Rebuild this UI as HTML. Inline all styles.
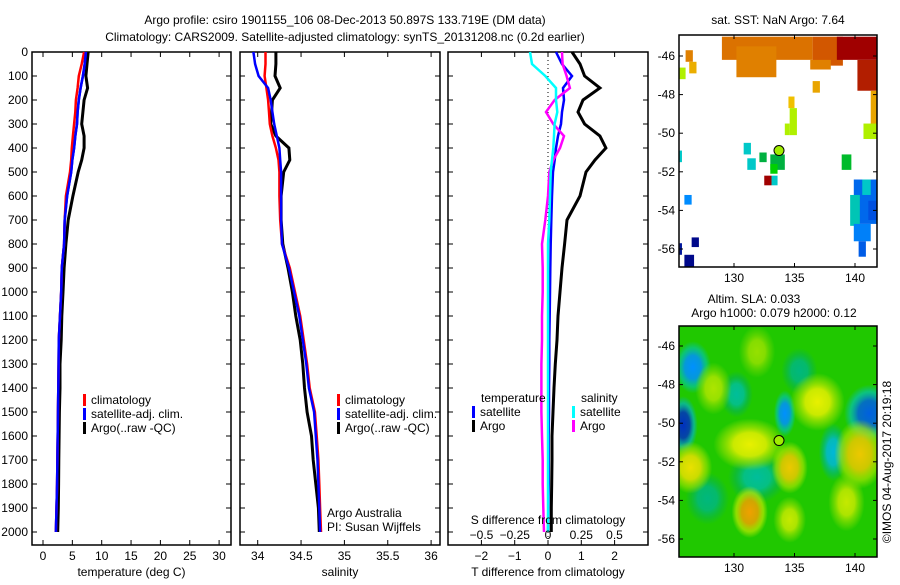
<!DOCTYPE html>
<html><head><meta charset="utf-8"><style>
body{margin:0;background:#fff;width:900px;height:580px;overflow:hidden}
svg text{font-family:"Liberation Sans",sans-serif;font-size:12px;fill:#000}
</style></head><body>
<svg id="c" width="900" height="580" viewBox="0 0 900 580"></svg>
<script>
const depths=[0,50,100,150,200,250,300,350,400,450,500,600,700,800,900,1000,1100,1200,1300,1400,1500,1600,1700,1800,1900,2000];
const tempArgo=[7.7,7.5,7.3,7.6,7.0,6.8,6.6,7.0,7.0,6.6,6.0,5.1,4.3,3.9,3.6,3.4,3.2,3.1,2.9,2.9,2.8,2.75,2.7,2.65,2.6,2.5];
const tempClim=[7.0,6.6,6.1,5.9,5.6,5.5,5.3,5.1,4.9,4.8,4.6,3.9,3.7,3.6,3.2,3.1,2.9,2.7,2.65,2.6,2.55,2.5,2.45,2.4,2.3,2.2];
const tempSat=[7.3,7.1,6.8,6.4,6.1,5.9,5.8,5.5,5.3,5.0,4.8,4.1,3.7,3.6,3.2,3.1,2.9,2.7,2.65,2.6,2.55,2.5,2.45,2.4,2.3,2.2];
const salArgo=[34.21,34.21,34.20,34.26,34.17,34.16,34.15,34.21,34.36,34.37,34.30,34.27,34.27,34.29,34.35,34.40,34.44,34.49,34.52,34.54,34.57,34.62,34.64,34.67,34.70,34.71];
const salClim=[34.09,34.09,34.08,34.10,34.12,34.13,34.14,34.17,34.21,34.24,34.25,34.25,34.26,34.28,34.37,34.43,34.49,34.53,34.57,34.60,34.66,34.68,34.70,34.71,34.72,34.73];
const salSat=[33.95,33.97,34.01,34.12,34.15,34.17,34.19,34.22,34.25,34.26,34.27,34.27,34.27,34.28,34.36,34.42,34.48,34.52,34.56,34.59,34.65,34.67,34.69,34.70,34.71,34.72];
const dTArgo=[0.72,0.96,1.1,1.56,1.05,0.9,1.1,1.56,1.74,1.41,1.14,0.96,0.57,0.5,0.42,0.36,0.3,0.27,0.22,0.18,0.15,0.12,0.12,0.11,0.1,0.1];
const dTSat=[0.24,0.42,0.72,0.45,0.48,0.42,0.39,0.3,0.24,0.2,0.15,0.12,0.1,0.08,0.07,0.06,0.05,0.04,0.04,0.03,0.03,0.02,0.02,0.02,0.01,0.0];
const dSArgo=[0.105,0.11,0.14,0.165,0.05,-0.015,0.04,0.12,0.09,0.04,0.01,0.0,-0.02,-0.045,-0.04,-0.04,-0.045,-0.045,-0.05,-0.05,-0.05,-0.045,-0.04,-0.04,-0.035,-0.03];
const dSSat=[-0.135,-0.12,-0.02,0.06,0.06,0.07,0.05,0.045,0.04,0.03,0.02,0.015,0.01,0,0,0,0,0,0,0,0,0,0,0,0,0];
const depthTicks=[0,100,200,300,400,500,600,700,800,900,1000,1100,1200,1300,1400,1500,1600,1700,1800,1900,2000];
const tempTicks=[0,5,10,15,20,25,30];
const salTicks=[34,34.5,35,35.5,36];
const dTTicks=[-2,-1,0,1,2];
const dSTicks=[-0.5,-0.25,0,0.25,0.5];
const dSTickLabels=['\u22120.5','\u22120.25','0','0.25','0.5'];
const lonTicks=[130,135,140];
const latTicks=[-46,-48,-50,-52,-54,-56];
const argoPos=[133.72,-50.897];
// SST patches: lon0, lon1, lat0, lat1, sst
const sstPatches=[[129,136.5,-45,-46.2,9.2],[136.5,139,-45,-46.5,9.6],[138.5,141.8,-45,-46.2,10.5],[140.2,141.8,-46.2,-47.8,10.2],[141.3,141.8,-47.8,-50,8.6],[140.7,141.8,-49.5,-50.3,7.7],[130.2,133.5,-45.5,-47.1,9.0],[136.3,138,-46.2,-46.7,9.0],[136.5,137.1,-47.3,-47.9,8.6],[126,126.6,-45.7,-46.3,9.0],[126.3,126.9,-46.3,-46.9,8.5],[125.5,126,-46.6,-47.2,7.7],[134.5,135,-48.1,-48.7,8.3],[134.6,135.2,-48.7,-50.1,7.7],[134.2,134.6,-49.5,-50.1,7.7],[130.8,131.4,-50.5,-51.1,6.0],[131.1,131.8,-51.3,-51.9,6.0],[132.1,132.7,-51,-51.5,6.7],[133,134.2,-51.1,-51.9,6.7],[133,133.6,-51.6,-52.1,7.0],[132.5,133.1,-52.2,-52.7,10.5],[133.1,133.6,-52.2,-52.7,6.0],[138.9,139.7,-51.1,-51.9,6.8],[125.5,125.7,-50.9,-51.5,6.0],[125.9,126.5,-53.2,-53.7,5.3],[126.5,127.1,-55.4,-55.9,3.2],[125.9,126.7,-56.3,-57,3.2],[125.5,125.7,-55.7,-56.3,3.5],[139.9,141.8,-52.4,-54.7,5.0],[139.6,140.4,-53.2,-54.8,6.1],[140.6,141.3,-52.4,-53.2,6.0],[141.1,141.8,-53.5,-54.5,4.8],[139.9,141.3,-54.7,-55.6,5.2],[140.3,140.9,-55.6,-56.4,4.9]];
// SLA blobs: lon, lat, radiusLon, radiusLat, sla
const slaBlobs=[[126.6,-47.1,1.0,0.9,-0.25],[125.8,-50.1,0.8,1.0,-0.35],[130.2,-48.5,0.9,0.8,-0.12],[134.2,-49.5,0.6,0.8,-0.25],[141.2,-49.5,1.4,1.0,-0.3],[138.2,-51.5,0.8,1.0,-0.18],[131.9,-52.8,1.6,0.9,-0.12],[135.4,-47.3,1.0,0.8,-0.1],[127.8,-53.9,1.2,0.9,-0.1],[136.9,-48.9,1.5,1.0,0.15],[131.3,-51.1,2.0,0.9,0.15],[134.6,-52.3,1.0,0.9,0.2],[140.4,-51.6,1.4,1.2,0.2],[126.4,-52.3,1.2,0.9,0.17],[131.3,-54.6,1.0,0.9,0.25],[134.6,-55,0.9,0.8,0.12],[139.3,-54.1,1.0,1.0,0.12],[131.9,-46.3,1.0,0.9,0.08],[128.3,-48.2,1.0,0.9,0.1]];

const NS='http://www.w3.org/2000/svg';
const svg=document.getElementById('c');
function el(tag,attrs,parent){const e=document.createElementNS(NS,tag);for(const k in attrs)e.setAttribute(k,attrs[k]);(parent||svg).appendChild(e);return e;}
function txt(s,x,y,anchor,parent){const t=el('text',{x:x,y:y,'text-anchor':anchor||'start'},parent);t.textContent=s;return t;}
const yD=d=>52+d*0.24;
function ramp(stops,v){if(v<=stops[0][0])return stops[0][1];for(let i=1;i<stops.length;i++){if(v<=stops[i][0]){const a=stops[i-1],b=stops[i],f=(v-a[0])/(b[0]-a[0]);
  const c=a[1].map((x,k)=>Math.round(x+(b[1][k]-x)*f));return c;}}return stops[stops.length-1][1];}
const rgb=c=>'rgb('+c[0]+','+c[1]+','+c[2]+')';
const sstStops=[[3,[0,0,128]],[4.8,[0,80,224]],[5.3,[0,140,255]],[6,[0,200,200]],[6.7,[0,176,64]],[7,[0,208,0]],[7.7,[176,240,0]],[8.3,[240,192,0]],[9,[224,128,0]],[9.7,[208,80,0]],[10.5,[160,0,0]]];
const slaStops=[[-0.35,[0,48,192]],[-0.25,[0,144,255]],[-0.15,[0,200,200]],[-0.08,[0,176,96]],[0,[32,200,0]],[0.08,[150,224,0]],[0.15,[232,240,0]],[0.25,[240,160,0]]];
const sstColor=v=>rgb(ramp(sstStops,v));

// titles
let t=txt('Argo profile: csiro 1901155_106 08-Dec-2013 50.897S 133.719E (DM data)',345,24,'middle');

t=txt('Climatology: CARS2009. Satellite-adjusted climatology: synTS_20131208.nc (0.2d earlier)',345,41,'middle');


function panel(name,x0,x1,xs,ticks,labels,xlabel,showDepth){
  const g=el('g',{});
  
  
  el('rect',{x:x0,y:52,width:x1-x0,height:493,fill:'none',stroke:'#000','stroke-width':1.5},g);
  depthTicks.forEach(d=>{const y=yD(d);el('line',{x1:x0,x2:x0+5,y1:y,y2:y,stroke:'#000'},g);el('line',{x1:x1-5,x2:x1,y1:y,y2:y,stroke:'#000'},g);
    if(showDepth){const l=txt(String(d),28,y+4,'end',g);}});
  ticks.forEach((v,i)=>{const x=xs(v);el('line',{x1:x,x2:x,y1:545,y2:540,stroke:'#000'},g);el('line',{x1:x,x2:x,y1:52,y2:57,stroke:'#000'},g);
    const l=txt(labels[i],x,560,'middle',g);});
  const xl=txt(xlabel,(x0+x1)/2,576,'middle',g);
  return g;
}
function line(g,vals,xs,color,w,name){
  const pts=vals.map((v,i)=>xs(v).toFixed(1)+','+yD(depths[i]).toFixed(1)).join(' ');
  const p=el('polyline',{points:pts,fill:'none',stroke:color,'stroke-width':w},g);
  
}
function legend(g,x,y,items){items.forEach((it,i)=>{el('rect',{x:x,y:y+i*14-10,width:3,height:12,fill:it[1]},g);
  const l=txt(it[0],x+8,y+i*14,'start',g);});}

const xT=v=>43+v*5.87;
let g1=panel('temperature-panel',32,231,xT,tempTicks,tempTicks.map(String),'temperature (deg C)',true);
line(g1,tempArgo,xT,'#000',3,'argo-temperature-line');
line(g1,tempSat,xT,'#00f',2.5,'satellite-temperature-line');
line(g1,tempClim,xT,'#f00',2.5,'climatology-temperature-line');
line(g1,tempSat,xT,'#00f',2.5,'satellite-temperature-line-top');
legend(g1,83,404,[['climatology','#f00'],['satellite-adj. clim.','#00f'],['Argo(..raw -QC)','#000']]);

const xS=v=>257.7+(v-34)*86.7;
let g2=panel('salinity-panel',240,440,xS,salTicks,salTicks.map(String),'salinity',false);
line(g2,salArgo,xS,'#000',3,'argo-salinity-line');
line(g2,salClim,xS,'#f00',2.5,'climatology-salinity-line');
line(g2,salSat,xS,'#00f',2.5,'satellite-salinity-line');
legend(g2,337,404,[['climatology','#f00'],['satellite-adj. clim.','#00f'],['Argo(..raw -QC)','#000']]);
t=txt('Argo Australia',327,517,'start',g2);
t=txt('PI: Susan Wijffels',327,531,'start',g2);

const xdT=v=>548+v*33.3;
const xdS=v=>548+v*133;
let g3=panel('difference-panel',448,648,xdT,dTTicks,dTTicks.map(v=>String(v).replace('-','\u2212')),'T difference from climatology',false);
el('line',{x1:548,x2:548,y1:52,y2:545,stroke:'#000','stroke-dasharray':'1,3'},g3);
line(g3,dTArgo,xdT,'#000',3,'argo-temperature-diff-line');
line(g3,dTSat,xdT,'#00f',2.5,'satellite-temperature-diff-line');
line(g3,dSArgo,xdS,'#f0f',2.5,'argo-salinity-diff-line');
line(g3,dSSat,xdS,'#0ff',2.5,'satellite-salinity-diff-line');
t=txt('temperature',481,402,'start',g3);
t=txt('salinity',581,402,'start',g3);
legend(g3,472,416,[['satellite','#00f'],['Argo','#000']]);
legend(g3,572,416,[['satellite','#0ff'],['Argo','#f0f']]);
t=txt('S difference from climatology',548,524,'middle',g3);
dSTicks.forEach((v,i)=>{const l=txt(dSTickLabels[i],xdS(v),539,'middle',g3);
  });

function map(name,y0,y1,lat46y){
  const g=el('g',{});
  
  
  const lx=v=>734+(v-130)*12.1;
  const ly=v=>lat46y+(-46-v)*19.3;
  return {g,lx,ly,y0,y1};
}
const m1=map('sst-map',35,267,56);
const cp1=el('clipPath',{id:'cp1'});el('rect',{x:679,y:35,width:198,height:232},cp1);
const sg=el('g',{'clip-path':'url(#cp1)'},m1.g);
sstPatches.forEach(p=>{const r=el('rect',{x:m1.lx(p[0]),y:m1.ly(p[2]),width:m1.lx(p[1])-m1.lx(p[0]),height:m1.ly(p[3])-m1.ly(p[2]),fill:sstColor(p[4])},sg);
  });
const m2=map('sla-map',326,557,346);
const defs=el('defs',{});
const cp2=el('clipPath',{id:'cp2'},defs);el('rect',{x:679,y:326,width:198,height:231},cp2);
const sg2=el('g',{'clip-path':'url(#cp2)'},m2.g);
const bg=el('rect',{x:679,y:326,width:198,height:231,fill:rgb(ramp(slaStops,0))},sg2);

slaBlobs.forEach((b,i)=>{const mid=rgb(ramp(slaStops,b[4]*0.55));const col=rgb(ramp(slaStops,b[4]));
  const gr=el('radialGradient',{id:'bl'+i},defs);
  el('stop',{offset:'0','stop-color':col,'stop-opacity':1},gr);
  el('stop',{offset:'0.45','stop-color':col,'stop-opacity':0.85},gr);
  el('stop',{offset:'0.75','stop-color':mid,'stop-opacity':0.6},gr);
  el('stop',{offset:'1','stop-color':mid,'stop-opacity':0},gr);
  const e=el('ellipse',{cx:m2.lx(b[0]),cy:m2.ly(b[1]),rx:b[2]*12.1*1.5,ry:b[3]*19.3*1.5,fill:'url(#bl'+i+')'},sg2);
  });
[m1,m2].forEach(m=>{
  el('rect',{x:679,y:m.y0,width:198,height:m.y1-m.y0,fill:'none',stroke:'#000','stroke-width':1.5},m.g);
  lonTicks.forEach(v=>{const x=m.lx(v);el('line',{x1:x,x2:x,y1:m.y1,y2:m.y1-4,stroke:'#000'},m.g);el('line',{x1:x,x2:x,y1:m.y0,y2:m.y0+4,stroke:'#000'},m.g);
    const l=txt(String(v),x,m.y1+15,'middle',m.g);});
  latTicks.forEach(v=>{const y=m.ly(v);el('line',{x1:679,x2:683,y1:y,y2:y,stroke:'#000'},m.g);el('line',{x1:873,x2:877,y1:y,y2:y,stroke:'#000'},m.g);
    const l=txt(String(v),675,y+4,'end',m.g);});
  const c=el('circle',{cx:m.lx(argoPos[0]),cy:m.ly(argoPos[1]),r:5,fill:sstColor(7.64),stroke:'#000','stroke-width':1},m.g);
  
});
t=txt('sat. SST: NaN Argo: 7.64',778,24,'middle');
t=txt('Altim. SLA: 0.033',754,303,'middle');
t=txt('Argo h1000: 0.079 h2000: 0.12',774,317,'middle');
t=el('text',{x:0,y:0,'text-anchor':'middle',transform:'translate(891,462) rotate(-90)'});t.textContent='©IMOS 04-Aug-2017 20:19:18';

</script>
</body></html>
